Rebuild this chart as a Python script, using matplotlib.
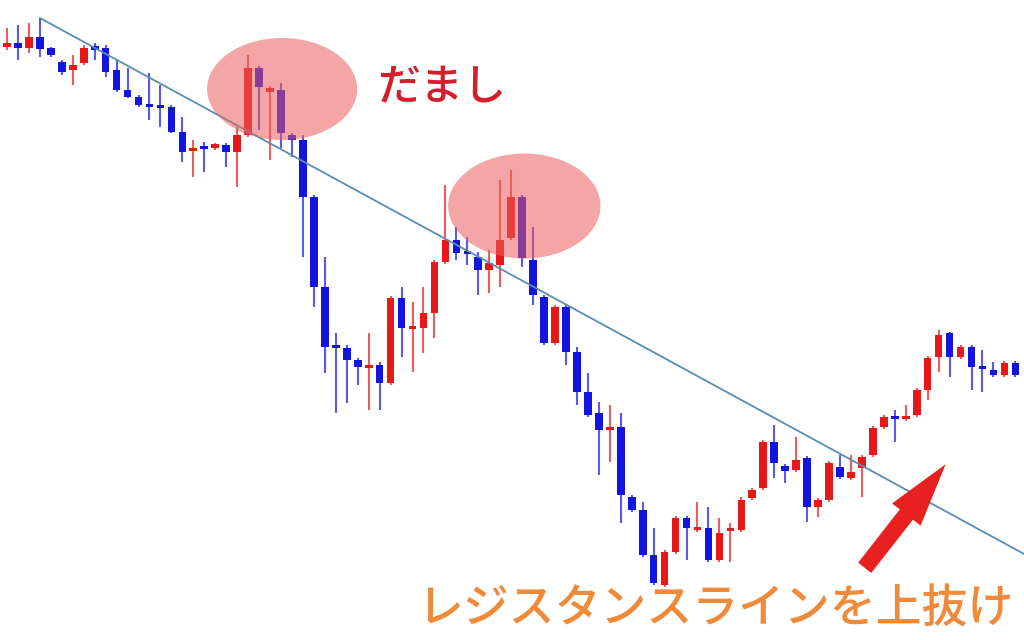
import matplotlib
matplotlib.use("Agg")
import matplotlib.pyplot as plt
import numpy as np
from matplotlib.patches import Ellipse

# ローソク足データ (始値, 高値, 安値, 終値)
open_ = [593, 597, 592, 603, 592, 578, 570, 577, 594, 592,
         570, 550, 543, 535, 534, 533, 508, 489, 493, 492,
         495, 488, 505, 572, 548, 550, 505, 500, 443, 353,
         294, 292, 280, 272, 275, 257, 342, 311, 312, 327,
         378, 400, 388, 383, 370, 375, 402, 443, 380, 343,
         297, 333, 288, 248, 227, 210, 213, 143, 130, 85,
         55, 88, 122, 110, 112, 80, 109, 110, 142, 152,
         198, 174, 170, 182, 133, 140, 173, 162, 172, 185,
         213, 223, 221, 225, 250, 283, 307, 283, 293, 273,
         270, 265, 277]
high = [612, 615, 617, 622, 593, 580, 585, 595, 597, 595,
        580, 572, 545, 567, 555, 535, 523, 500, 498, 497,
        497, 513, 585, 574, 554, 557, 507, 505, 445, 383,
        307, 295, 282, 307, 278, 344, 353, 338, 353, 380,
        455, 413, 403, 388, 390, 460, 470, 445, 413, 345,
        335, 335, 293, 267, 238, 235, 227, 145, 138, 112,
        90, 124, 124, 138, 133, 122, 117, 143, 152, 200,
        215, 176, 203, 184, 142, 179, 185, 185, 185, 214,
        225, 230, 235, 252, 284, 310, 308, 295, 295, 290,
        278, 279, 279]
low = [590, 580, 587, 583, 583, 565, 555, 575, 580, 563,
       548, 542, 533, 520, 513, 507, 478, 463, 468, 490,
       473, 453, 503, 510, 480, 492, 483, 383, 333, 267,
       227, 237, 255, 230, 230, 255, 283, 268, 287, 302,
       376, 380, 375, 345, 347, 353, 400, 373, 335, 295,
       295, 275, 235, 223, 165, 178, 117, 128, 83, 55,
       53, 86, 80, 108, 78, 78, 78, 108, 140, 150,
       162, 157, 168, 118, 123, 138, 161, 160, 143, 183,
       211, 198, 219, 223, 240, 268, 263, 281, 250, 248,
       263, 263, 263]
close = [597, 592, 603, 591, 585, 568, 575, 592, 590, 568,
         550, 543, 535, 533, 532, 508, 488, 492, 491, 496,
         488, 505, 572, 553, 552, 507, 500, 443, 353, 293,
         292, 280, 273, 274, 257, 342, 312, 313, 327, 378,
         400, 387, 386, 370, 377, 400, 443, 382, 345, 297,
         333, 288, 248, 225, 210, 212, 145, 130, 85, 57,
         88, 122, 112, 112, 80, 107, 111, 140, 150, 198,
         177, 169, 180, 133, 140, 177, 163, 168, 183, 212,
         223, 221, 223, 250, 282, 305, 283, 293, 273, 271,
         265, 277, 265]

# レジスタンスライン (足の位置, 価格)
trend_x = [3, 92.8]
trend_y = [622, 86]

UP_COLOR = "#e81818"
DOWN_COLOR = "#1414e0"


def dibujar_velas(ax):
    idx = np.arange(len(open_))
    o = np.array(open_)
    c = np.array(close)
    colores = [UP_COLOR if cc >= oo else DOWN_COLOR for oo, cc in zip(o, c)]
    ax.vlines(idx, low, high, colors=colores, linewidth=1.5, alpha=0.7, zorder=2)
    base = np.minimum(o, c)
    alto = np.maximum(np.abs(c - o), 3)
    ax.bar(idx, alto, bottom=base, width=0.7, color=colores, linewidth=0, zorder=3)


fig = plt.figure(figsize=(10.24, 6.4), dpi=100)
ax = fig.add_axes([0, 0, 1, 1])
ax.set_xlim(-0.64, 92.79)
ax.set_ylim(0, 640)
ax.axis("off")

dibujar_velas(ax)
ax.plot(trend_x, trend_y, color="#5a8db0", linewidth=1.3, zorder=4)

for cx, cy, w, h in [(25.1, 551, 13.7, 102), (47.2, 434, 13.9, 105)]:
    ax.add_patch(Ellipse((cx, cy), w, h, facecolor=(0.92, 0.37, 0.37),
                         edgecolor="none", alpha=0.55, zorder=5))

cjk = ["Noto Sans CJK JP", "DejaVu Sans"]
ax.text(33.8, 552, "だまし", family=cjk, fontsize=31, color="#d21f2c",
        fontweight="medium", va="center", ha="left", zorder=6)
ax.text(37.4, 32, "レジスタンスラインを上抜け", family=cjk, fontsize=33,
        color="#ee8a3a", fontweight="medium", va="center", ha="left", zorder=6)

ax.annotate("", xy=(85.8, 178), xytext=(78.1, 70),
            arrowprops=dict(arrowstyle="simple,head_length=4.6,head_width=2.6,tail_width=1.2",
                            mutation_scale=10, color="#e82020", linewidth=0),
            zorder=6)

fig.savefig("out.png", dpi=100)
